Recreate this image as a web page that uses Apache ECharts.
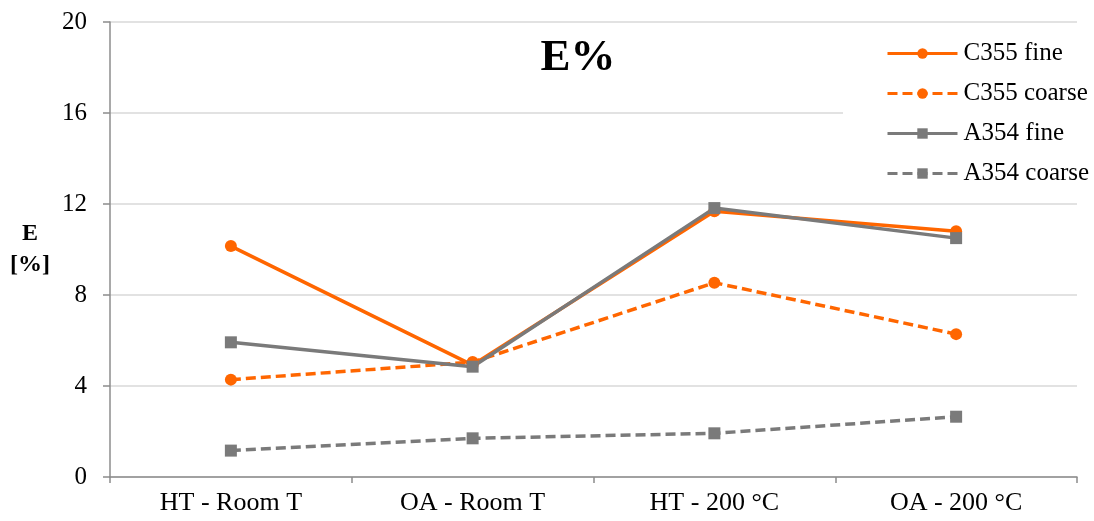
<!DOCTYPE html>
<html>
<head>
<meta charset="utf-8">
<title>E%</title>
<script src="https://cdn.jsdelivr.net/npm/echarts@6/dist/echarts.min.js"></script>
<style>
  html, body { margin: 0; padding: 0; background: #fff; }
  #chart { width: 1094px; height: 521px; }
</style>
</head>
<body>
<div id="chart"></div>
<script>
// Elongation at fracture by condition and alloy
const categories = ['HT - Room T', 'OA - Room T', 'HT - 200 °C', 'OA - 200 °C'];
const c355Fine   = [10.15, 4.92, 11.68, 10.8];
const c355Coarse = [4.28, 5.05, 8.54, 6.28];
const a354Fine   = [5.92, 4.85, 11.82, 10.5];
const a354Coarse = [1.16, 1.7, 1.92, 2.65];
const yTicks = [0, 4, 8, 12, 16, 20];

const ORANGE = '#FF6600';
const GREY = '#7A7A7A';
const FONT = 'Liberation Serif';
const LINE_W = 3.5;

function lineSeries(name, data, color, dashed, symbol, size) {
  return {
    name: name,
    type: 'line',
    data: data,
    symbol: symbol,
    symbolSize: size,
    showSymbol: true,
    color: color,
    lineStyle: { color: color, width: LINE_W, type: dashed ? [10, 5] : 'solid', cap: 'butt' },
    itemStyle: { color: color },
    emphasis: { disabled: true },
    animation: false
  };
}

const chart = echarts.init(document.getElementById('chart'), null, { renderer: 'canvas' });
chart.setOption({
  backgroundColor: '#fff',
  animation: false,
  textStyle: { fontFamily: FONT },
  title: {
    text: 'E%',
    left: 573,
    top: 31,
    textAlign: 'center',
    textStyle: { fontFamily: FONT, fontSize: 45, fontWeight: 'bold', color: '#000' }
  },
  grid: { left: 110, right: 17, top: 22, bottom: 44, containLabel: false },
  legend: {
    orient: 'vertical',
    left: 843,
    top: 30,
    padding: [11, 10, 8, 43],
    backgroundColor: '#fff',
    itemWidth: 70,
    itemHeight: 13,
    itemGap: 15,
    align: 'left',
    lineStyle: { width: 3 },
    textStyle: { fontFamily: FONT, fontSize: 25, color: '#000', lineHeight: 25, padding: [0, 0, 0, 1] },
    data: ['C355 fine', 'C355 coarse', 'A354 fine', 'A354 coarse']
  },
  xAxis: {
    type: 'category',
    data: categories,
    boundaryGap: true,
    axisLine: { lineStyle: { color: '#8C8C8C', width: 1.5 } },
    axisTick: { show: true, length: 6, lineStyle: { color: '#8C8C8C', width: 1.5 } },
    axisLabel: { fontFamily: FONT, fontSize: 26, color: '#000', margin: 13 },
    splitLine: { show: false }
  },
  yAxis: {
    type: 'value',
    min: yTicks[0],
    max: yTicks[yTicks.length - 1],
    interval: yTicks[1] - yTicks[0],
    name: 'E\n[%]',
    nameLocation: 'middle',
    nameRotate: 0,
    nameGap: 80,
    nameTextStyle: {
      fontFamily: FONT, fontSize: 24, fontWeight: 'bold', color: '#000',
      align: 'center', verticalAlign: 'middle', lineHeight: 31
    },
    axisLine: { show: true, lineStyle: { color: '#8C8C8C', width: 1.5 } },
    axisTick: { show: true, length: 7, lineStyle: { color: '#8C8C8C', width: 1.5 } },
    axisLabel: { fontFamily: FONT, fontSize: 25, color: '#000', margin: 23 },
    splitLine: { show: true, lineStyle: { color: '#D9D9D9', width: 1.5 } }
  },
  series: [
    lineSeries('C355 fine', c355Fine, ORANGE, false, 'circle', 12),
    lineSeries('C355 coarse', c355Coarse, ORANGE, true, 'circle', 12),
    lineSeries('A354 fine', a354Fine, GREY, false, 'rect', 12),
    lineSeries('A354 coarse', a354Coarse, GREY, true, 'rect', 12)
  ]
});
</script>
</body>
</html>
